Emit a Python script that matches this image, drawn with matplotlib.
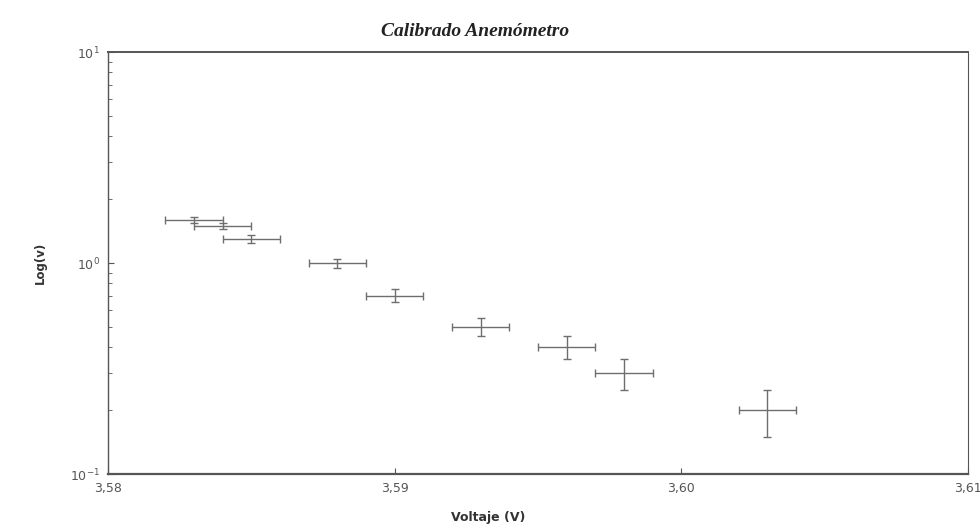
import matplotlib
matplotlib.use("Agg")
import matplotlib.pyplot as plt
from matplotlib.ticker import FixedLocator, FuncFormatter, LogLocator, NullFormatter

voltage = [3.583, 3.584, 3.585, 3.588, 3.590, 3.593, 3.596, 3.598, 3.603]
velocity = [1.6, 1.5, 1.3, 1.0, 0.7, 0.5, 0.4, 0.3, 0.2]
voltage_err = [0.001] * 9
velocity_err = [0.05] * 9
x_ticks = [3.58, 3.59, 3.60, 3.61]
x_tick_labels = ["3,58", "3,59", "3,60", "3,61"]

fig = plt.figure(figsize=(9.8, 5.26), dpi=100)
ax = fig.add_axes([108/980, 1-474/526, (968-108)/980, (474-52)/526])

ax.errorbar(voltage, velocity, xerr=voltage_err, yerr=velocity_err, fmt='none',
            ecolor='#6e6e6e', elinewidth=1.0, capsize=3, capthick=1.0)

ax.set_yscale('log')
ax.set_xlim(3.58, 3.61)
ax.set_ylim(0.1, 10)
ax.xaxis.set_major_locator(FixedLocator(x_ticks))
ax.set_xticklabels(x_tick_labels)
ax.yaxis.set_major_locator(FixedLocator([0.1, 1, 10]))
ax.yaxis.set_major_formatter(FuncFormatter(lambda v, p: {0.1: r'$10^{-1}$', 1: r'$10^{0}$', 10: r'$10^{1}$'}.get(round(v, 3), '')))
ax.yaxis.set_minor_locator(LogLocator(base=10, subs=range(2, 10)))
ax.yaxis.set_minor_formatter(NullFormatter())

ax.tick_params(axis='both', which='major', direction='in', length=4, color='#555555',
               labelsize=9, labelcolor='#555555', pad=6)
ax.tick_params(axis='y', which='minor', direction='in', length=3, color='#555555')

for side, lw in [('top', 1.4), ('bottom', 1.6), ('left', 1.0), ('right', 0.8)]:
    ax.spines[side].set_linewidth(lw)
    ax.spines[side].set_color('#555555')

fig.text(475/980, 1-32/526, 'Calibrado Anemómetro', ha='center', va='center',
         fontsize=14, fontweight='bold', fontstyle='italic', family='Liberation Serif', color='#222222')
fig.text(40/980, 1-263/526, 'Log(v)', rotation=90, ha='center', va='center',
         fontsize=8.5, fontweight='bold', color='#333333')
fig.text(488/980, 1-517/526, 'Voltaje (V)', ha='center', va='center',
         fontsize=9, fontweight='bold', color='#333333')

fig.savefig('out.png', dpi=100)
